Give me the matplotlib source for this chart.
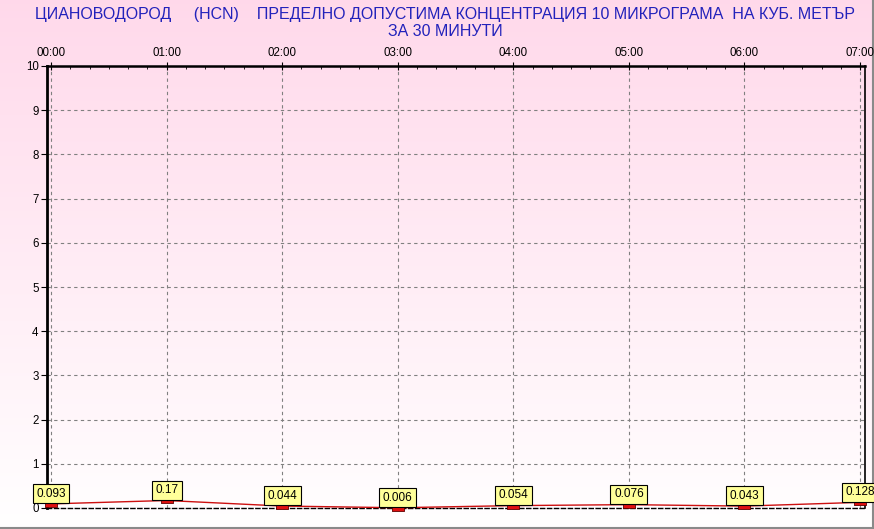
import matplotlib.pyplot as plt
import numpy as np
from matplotlib.path import Path
from matplotlib.ticker import MultipleLocator

plt.rcParams['font.family'] = ['Liberation Sans', 'DejaVu Sans']

# hourly values, mkg/m3
hours = [0, 1, 2, 3, 4, 5, 6, 7]
hour_labels = ['00:00', '01:00', '02:00', '03:00', '04:00', '05:00', '06:00', '07:00']
values = [0.093, 0.17, 0.044, 0.006, 0.054, 0.076, 0.043, 0.128]
value_labels = ['0.093', '0.17', '0.044', '0.006', '0.054', '0.076', '0.043', '0.128']
y_ticks = [0, 1, 2, 3, 4, 5, 6, 7, 8, 9, 10]

title1 = 'ЦИАНОВОДОРОД     (HCN)    ПРЕДЕЛНО ДОПУСТИМА КОНЦЕНТРАЦИЯ 10 МИКРОГРАМА  НА КУБ. МЕТЪР'
title2 = 'ЗА 30 МИНУТИ'

W, H = 874, 529
fig = plt.figure(figsize=(W / 100, H / 100), dpi=100)

# pink -> white gradient behind everything
bg = fig.add_axes([0, 0, 1, 1], zorder=-10)
g = np.linspace(0, 1, 256).reshape(-1, 1)
top = np.array([1.0, 0.85, 0.92])
bot = np.array([1.0, 1.0, 1.0])
img = top * (1 - g[..., None]) + bot * g[..., None]
img = np.repeat(img, 2, axis=1)
bg.imshow(img, aspect='auto', extent=[0, 1, 0, 1], origin='upper')
bg.set_xlim(0, 1)
bg.set_ylim(0, 1)
bg.axis('off')
# grey frame at bottom and right
bg.plot([0, 872.5 / W], [1.5 / H, 1.5 / H], color='#8a8a8a', lw=1.5)
bg.plot([872.5 / W, 872.5 / W], [1.5 / H, 1], color='#8a8a8a', lw=1.5)

x0, x1 = 47, 865
y_top, y_bot = 66, 508
ax = fig.add_axes([x0 / W, (H - y_bot) / H, (x1 - x0) / W, (y_bot - y_top) / H])
ax.set_facecolor('none')
ax.set_xlim(-0.035, 7.043)
ax.set_ylim(0, 10)

ax.xaxis.tick_top()
ax.set_xticks(hours)
ax.set_xticklabels(hour_labels)
ax.xaxis.set_minor_locator(MultipleLocator(1 / 6))
ax.set_yticks(y_ticks)
ax.set_yticklabels([str(v) for v in y_ticks])
ax.tick_params(axis='both', labelsize=8.3, colors='black', length=4, width=0.8, pad=2)
ax.tick_params(axis='x', which='minor', length=2, direction='in')
ax.tick_params(axis='x', which='major', direction='inout', length=6)

ax.grid(True, linestyle=(0, (3, 3)), color='#808080', lw=0.8)

ax.spines['left'].set_linewidth(2)
ax.spines['top'].set_linewidth(1.8)
ax.spines['right'].set_linewidth(1.2)
ax.spines['bottom'].set_linestyle((0, (3, 2)))
ax.spines['bottom'].set_linewidth(1)
for s in ax.spines.values():
    s.set_color('black')

ax.plot(hours, values, color='#cc1010', lw=1, zorder=3, clip_on=False)
rect = Path([(-1, -0.5), (1, -0.5), (1, 0.5), (-1, 0.5), (-1, -0.5)])
ax.plot(hours, values, ls='none', marker=rect, markersize=8, markerfacecolor='#e01010',
        markeredgecolor='#600000', markeredgewidth=0.6, zorder=4, clip_on=False)

for xv, yv, lab in zip(hours, values, value_labels):
    ax.annotate(lab, (xv, yv), xytext=(0, 3), textcoords='offset points',
                ha='center', va='bottom', fontsize=8.5, zorder=5, annotation_clip=False,
                bbox=dict(boxstyle='square,pad=0.3', fc='#ffff99', ec='black', lw=0.8))

fig.text(445 / W, 1 - 15 / H, title1, ha='center', va='center', color='#2222bb', fontsize=11.5)
fig.text(445 / W, 1 - 31 / H, title2, ha='center', va='center', color='#2222bb', fontsize=11.5)

fig.savefig('out.png', dpi=100)
